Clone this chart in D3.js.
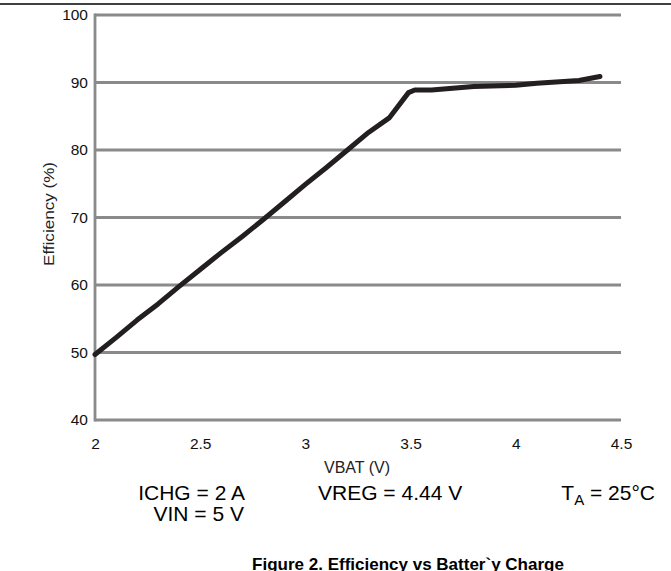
<!DOCTYPE html>
<html>
<head>
<meta charset="UTF-8">
<style>
    body { margin: 0; padding: 0; background: #fff; }
    svg { display: block; font-family: "Liberation Sans", Arial, sans-serif; }
</style>
</head>
<body>
<svg id="chart" width="671" height="571"></svg>
<script src="https://d3js.org/d3.v7.min.js"></script>
<script>
    // 读取的数据点
    var vbat = [2.0, 2.1, 2.2, 2.3, 2.4, 2.5, 2.6, 2.7, 2.8, 2.9, 3.0, 3.1, 3.2, 3.3, 3.4, 3.49, 3.52, 3.6, 3.8, 4.0, 4.1, 4.3, 4.4];
    var eff  = [49.7, 52.2, 54.8, 57.2, 59.8, 62.3, 64.8, 67.2, 69.7, 72.3, 74.9, 77.4, 80.0, 82.6, 84.8, 88.5, 88.9, 88.9, 89.4, 89.6, 89.9, 90.3, 90.9];
    var xTicks = [2, 2.5, 3, 3.5, 4, 4.5];
    var yTicks = [40, 50, 60, 70, 80, 90, 100];

    const svg = d3.select("#chart");

    // 顶部黑线
    svg.append("line")
      .attr("x1", 0).attr("x2", 671)
      .attr("y1", 4).attr("y2", 4)
      .attr("stroke", "#000").attr("stroke-width", 1.5);

    const xScale = d3.scaleLinear().domain([2, 4.5]).range([95, 621]);
    const yScale = d3.scaleLinear().domain([40, 100]).range([420, 15]);

    // 网格线
    svg.append("g")
      .selectAll("line")
      .data(yTicks)
      .join("line")
      .attr("x1", xScale(2)).attr("x2", xScale(4.5))
      .attr("y1", d => yScale(d)).attr("y2", d => yScale(d))
      .attr("stroke", "#8a8a8a").attr("stroke-width", 2.8);

    // 左轴
    svg.append("line")
      .attr("x1", xScale(2)).attr("x2", xScale(2))
      .attr("y1", yScale(100) - 1.4).attr("y2", yScale(40) + 1.4)
      .attr("stroke", "#8a8a8a").attr("stroke-width", 2.8);

    // y 轴刻度
    const yAxis = d3.axisLeft(yScale).tickValues(yTicks).tickSize(0).tickPadding(7);
    const gy = svg.append("g").attr("transform", `translate(${xScale(2)},0)`).call(yAxis);
    gy.select(".domain").remove();
    gy.selectAll("text").attr("font-size", 15.5).attr("fill", "#111")
      .attr("font-family", "Liberation Sans, Arial, sans-serif");

    // x 轴刻度
    const xAxis = d3.axisBottom(xScale).tickValues(xTicks).tickFormat(d3.format("")).tickSize(0).tickPadding(18);
    const gx = svg.append("g").attr("transform", `translate(0,${yScale(40)})`).call(xAxis);
    gx.select(".domain").remove();
    gx.selectAll("text").attr("font-size", 15.5).attr("fill", "#111")
      .attr("font-family", "Liberation Sans, Arial, sans-serif");

    // 曲线
    const line = d3.line()
      .x((d, i) => xScale(vbat[i]))
      .y(d => yScale(d));
    svg.append("path")
      .attr("d", line(eff))
      .attr("fill", "none")
      .attr("stroke", "#231f20")
      .attr("stroke-width", 5)
      .attr("stroke-linejoin", "round")
      .attr("stroke-linecap", "round");

    // 轴标题
    svg.append("text")
      .attr("transform", "translate(54,214) rotate(-90)")
      .attr("text-anchor", "middle")
      .attr("font-size", 15)
      .attr("fill", "#222")
      .attr("textLength", 104)
      .attr("lengthAdjust", "spacingAndGlyphs")
      .text("Efficiency (%)");

    svg.append("text")
      .attr("x", 357).attr("y", 473)
      .attr("text-anchor", "middle")
      .attr("font-size", 16)
      .attr("fill", "#222")
      .text("VBAT (V)");

    // 条件说明
    svg.append("text")
      .attr("x", 245).attr("y", 500)
      .attr("text-anchor", "end")
      .attr("font-size", 21)
      .text("ICHG = 2 A");
    svg.append("text")
      .attr("x", 244).attr("y", 521)
      .attr("text-anchor", "end")
      .attr("font-size", 21)
      .text("VIN = 5 V");
    svg.append("text")
      .attr("x", 318).attr("y", 500)
      .attr("font-size", 21)
      .text("VREG = 4.44 V");
    const ta = svg.append("text")
      .attr("x", 655).attr("y", 500)
      .attr("text-anchor", "end")
      .attr("font-size", 21);
    ta.append("tspan").text("T");
    ta.append("tspan").attr("font-size", 15).attr("dy", 5).text("A");
    ta.append("tspan").attr("dy", -5).text(" = 25°C");

    // 图标题
    svg.append("text")
      .attr("x", 408).attr("y", 570)
      .attr("text-anchor", "middle")
      .attr("font-size", 17)
      .attr("font-weight", "bold")
      .text("Figure 2. Efficiency vs Batter`y Charge");
</script>
</body>
</html>
